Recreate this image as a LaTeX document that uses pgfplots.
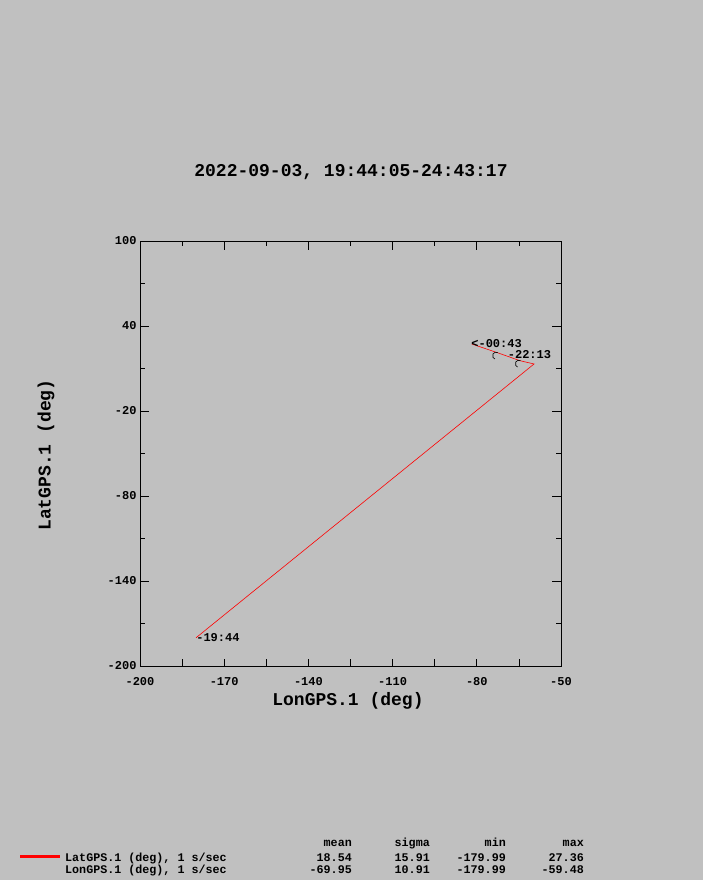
\documentclass[border=0pt]{standalone}
\usepackage{fontspec}
\setmainfont{Liberation Mono}
\usepackage{pgfplots}
\pgfplotsset{compat=1.18}
\definecolor{bg}{RGB}{192,192,192}
\pgfplotsset{
  frame/.style={
    at={(140pt,-666pt)}, anchor=south west,
    scale only axis, width=421pt, height=425pt,
    xmin=-200, xmax=-50, ymin=-200, ymax=100,
    tick align=inside,
    every tick/.style={black, line width=0.8pt},
    axis line style={black, line width=0.8pt},
    ticklabel style={font=\fontsize{12}{12}\selectfont\bfseries},
    /pgf/number format/assume math mode=true,
  }}
\begin{document}
\begin{tikzpicture}
\fill[bg] (0,0) rectangle (703pt,-880pt);
\node[font=\fontsize{18}{20}\selectfont\bfseries] at (351pt,-172pt) {2022-09-03, 19:44:05-24:43:17};
% bottom x ticks, all the same length, and the data
\begin{axis}[
  frame,
  xtick pos=bottom,
  xtick={-200,-185,...,-50},
  xticklabels={-200,,-170,,-140,,-110,,-80,,-50},
  ytick=\empty,
  major tick length=7pt,
  xticklabel style={yshift=-8pt},
  clip=false,
]
\addplot[red, line width=0.6pt] coordinates {
  (-180,-180) (-59.6,13.2) (-64.6,15.5) (-72.7,21.2) (-81.8,27.3)};
\node[anchor=west, inner sep=0pt, font=\fontsize{12}{12}\selectfont\bfseries] at (axis cs:-180,-180) {-19:44};
\node[anchor=west, inner sep=0pt, font=\fontsize{12}{12}\selectfont\bfseries] at (axis cs:-82,27.3) {<-00:43};
\node[anchor=west, inner sep=0pt, font=\fontsize{12}{12}\selectfont\bfseries] at (axis cs:-69,20.2) {-22:13};
\draw[black, line width=0.6pt] (axis cs:-72.7,21.2) ++(0.5pt,0pt) arc[start angle=60, end angle=250, radius=3.5pt];
\draw[black, line width=0.6pt] (axis cs:-64.6,15.5) ++(0.5pt,0pt) arc[start angle=60, end angle=250, radius=3.5pt];
\end{axis}
% top x ticks and y ticks, major and minor
\begin{axis}[
  frame,
  xtick pos=top, xticklabels={},
  xtick={-200,-170,...,-50}, minor xtick={-185,-155,...,-65},
  ytick={-200,-140,...,100},
  yticklabels={-200,-140,-80,-20,40,100},
  minor ytick={-170,-110,...,70},
  major tick length=9pt, minor tick length=5pt,
]
\end{axis}
\node[rotate=90, font=\fontsize{18}{20}\selectfont\bfseries] at (46pt,-455pt) {LatGPS.1 (deg)};
\node[font=\fontsize{18}{20}\selectfont\bfseries] at (348pt,-701pt) {LonGPS.1 (deg)};
\draw[red, line width=3pt] (20pt,-856pt) -- (60pt,-856pt);
\begin{scope}[every node/.style={inner sep=0pt, font=\fontsize{11.7}{12}\selectfont\bfseries}]
\node[anchor=base east] at (352pt,-846pt) {mean};
\node[anchor=base east] at (430pt,-846pt) {sigma};
\node[anchor=base east] at (506pt,-846pt) {min};
\node[anchor=base east] at (584pt,-846pt) {max};
\node[anchor=base west] at (65pt,-861pt) {LatGPS.1 (deg), 1 s/sec};
\node[anchor=base east] at (352pt,-861pt) {18.54};
\node[anchor=base east] at (430pt,-861pt) {15.91};
\node[anchor=base east] at (506pt,-861pt) {-179.99};
\node[anchor=base east] at (584pt,-861pt) {27.36};
\node[anchor=base west] at (65pt,-873pt) {LonGPS.1 (deg), 1 s/sec};
\node[anchor=base east] at (352pt,-873pt) {-69.95};
\node[anchor=base east] at (430pt,-873pt) {10.91};
\node[anchor=base east] at (506pt,-873pt) {-179.99};
\node[anchor=base east] at (584pt,-873pt) {-59.48};
\end{scope}
\end{tikzpicture}
\end{document}
